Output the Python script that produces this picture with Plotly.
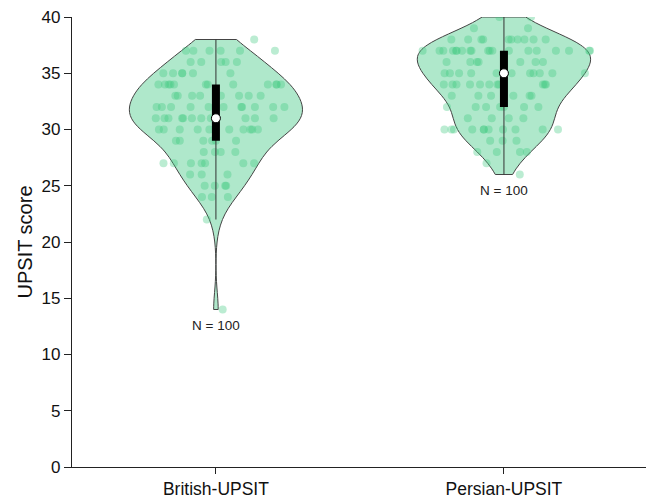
import numpy as np
import plotly.graph_objects as go

categories = ["British-UPSIT", "Persian-UPSIT"]

british_scores = [14, 22, 24, 25, 26, 27, 28, 29, 30, 31, 32, 33, 34, 35, 36, 37, 38]
british_counts = [1, 1, 3, 4, 3, 7, 4, 6, 10, 12, 11, 8, 12, 6, 5, 6, 1]

persian_scores = [26, 27, 28, 29, 30, 31, 32, 33, 34, 35, 36, 37, 38, 39, 40]
persian_counts = [1, 1, 4, 3, 11, 4, 7, 6, 11, 12, 7, 19, 10, 2, 2]

y_ticks = [0, 5, 10, 15, 20, 25, 30, 35, 40]

groups = [
    np.repeat(british_scores, british_counts).astype(float),
    np.repeat(persian_scores, persian_counts).astype(float),
]

FONT = "Liberation Sans, Arial, Helvetica, sans-serif"
fig = go.Figure()

for cat, vals in zip(categories, groups):
    fig.add_trace(go.Violin(
        x=[cat] * len(vals), y=vals,
        points="all", jitter=1.0, pointpos=0,
        spanmode="hard", scalemode="width", width=0.6,
        bandwidth=1.5,
        fillcolor="rgba(110,214,160,0.55)",
        line=dict(color="#444444", width=1),
        marker=dict(color="rgba(60,200,125,0.35)", size=8, line=dict(width=0)),
        box_visible=False, meanline_visible=False,
        hoverinfo="skip", showlegend=False,
    ))
    q1, med, q3 = np.percentile(vals, [25, 50, 75])
    iqr = q3 - q1
    lo = vals[vals >= q1 - 1.5 * iqr].min()
    hi = vals[vals <= q3 + 1.5 * iqr].max()
    # whisker
    fig.add_trace(go.Scatter(x=[cat, cat], y=[lo, hi], mode="lines",
                             line=dict(color="#333333", width=1),
                             hoverinfo="skip", showlegend=False))
    # IQR bar
    fig.add_trace(go.Scatter(x=[cat, cat], y=[q1, q3], mode="lines",
                             line=dict(color="black", width=8),
                             hoverinfo="skip", showlegend=False))
    # median
    fig.add_trace(go.Scatter(x=[cat], y=[med], mode="markers",
                             marker=dict(color="white", size=9, line=dict(color="black", width=1)),
                             hoverinfo="skip", showlegend=False))
    fig.add_annotation(x=cat, y=vals.min() - 0.6, text=f"N = {len(vals)}",
                       showarrow=False, yanchor="top",
                       font=dict(family=FONT, size=13.5, color="#222222"))

# page body has an 8px margin: figure sized to fit the 654x501 window
fig.update_layout(
    width=646, height=493,
    margin=dict(l=57, r=0, t=6, b=34),
    paper_bgcolor="white", plot_bgcolor="white",
    font=dict(family=FONT, color="#111111"),
)
fig.update_xaxes(
    type="category", range=[-0.524, 1.521],
    showline=True, linecolor="#222222", linewidth=1.3,
    ticks="outside", ticklen=6, tickcolor="#222222",
    tickfont=dict(size=17.5, family=FONT), showgrid=False, zeroline=False,
)
fig.update_yaxes(
    range=[0, 40], tickvals=y_ticks,
    anchor="free", position=0.0102,
    ticklabeloverflow="allow",
    showline=True, linecolor="#222222", linewidth=1.3,
    ticks="outside", ticklen=7, tickcolor="#222222",
    tickfont=dict(size=17, family=FONT), showgrid=False, zeroline=False,
    title=dict(text="UPSIT score", font=dict(size=20, family=FONT), standoff=2),
)

fig.write_html("out.html")
